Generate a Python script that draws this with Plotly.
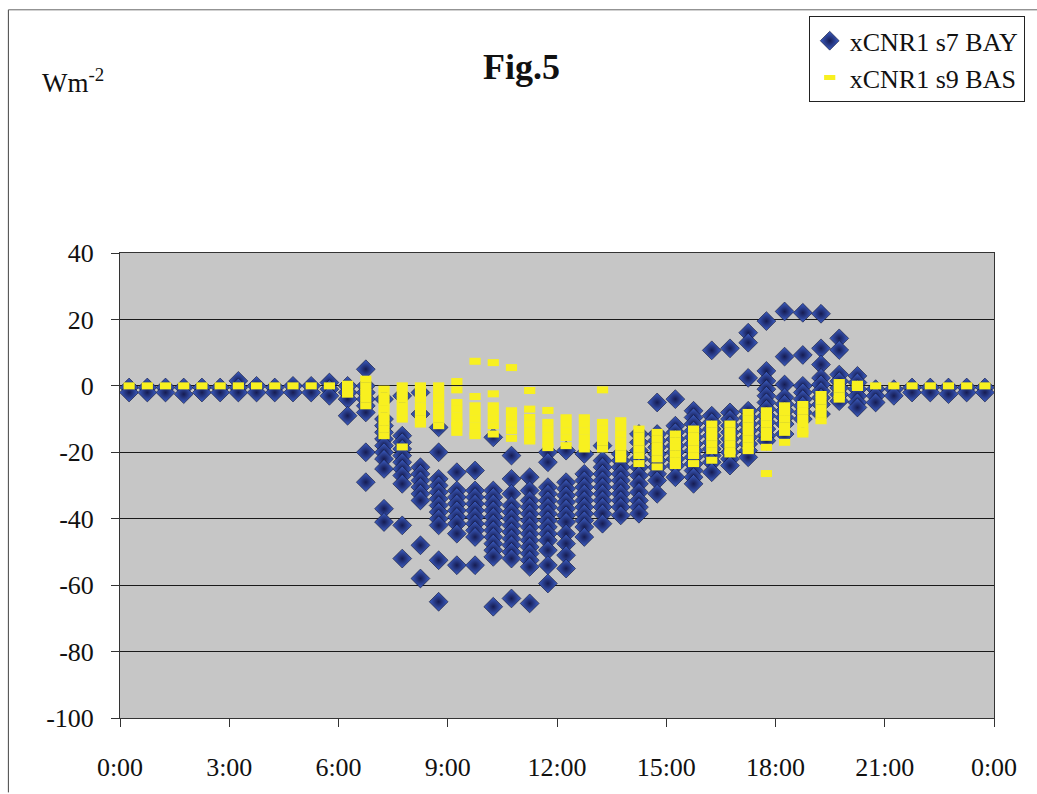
import plotly.graph_objects as go

# Half-hour measurement slots (time of day)
slot_times = [
    "0:15", "0:45", "1:15", "1:45", "2:15", "2:45", "3:15", "3:45",
    "4:15", "4:45", "5:15", "5:45", "6:15", "6:45", "7:15", "7:45",
    "8:15", "8:45", "9:15", "9:45", "10:15", "10:45", "11:15", "11:45",
    "12:15", "12:45", "13:15", "13:45", "14:15", "14:45", "15:15", "15:45",
    "16:15", "16:45", "17:15", "17:45", "18:15", "18:45", "19:15", "19:45",
    "20:15", "20:45", "21:15", "21:45", "22:15", "22:45", "23:15", "23:45",
]

# xCNR1 s7 BAY values (W m-2) observed in each slot
bay_values = [
    [-0.5, -2], [-0.5, -2], [-0.5, -2], [-0.5, -2.5], [-0.5, -2], [-0.5, -2],
    [1.5, -0.5, -2], [0, -2], [-0.5, -2], [0, -2], [0, -2], [1, -1, -3],
    [0, -2, -4, -9],
    [5, 0, -2, -4, -6, -8, -20, -29],
    [-4, -10, -12, -14, -16, -18, -20, -22, -25, -37, -41],
    [-3, -15, -17, -19, -21, -23, -25, -27, -29.5, -42, -52],
    [-2, -8.5, -24.5, -26.5, -28.5, -30.5, -32.5, -34.5, -48, -58],
    [-12.5, -20, -28, -30, -32, -34, -36, -38, -40, -42, -52.5, -65],
    [-26, -31.5, -33.5, -35.5, -37.5, -39.5, -41.5, -44.5, -54],
    [-25.5, -31.5, -33.5, -35.5, -37.5, -39.5, -41.5, -43.5, -45.5, -54],
    [-15.5, -31.5, -33.5, -35.5, -37.5, -39.5, -41.5, -43.5, -45.5, -47.5, -49.5, -51.5, -66.5],
    [-21, -28, -32.5, -36, -38, -40, -42, -44, -46, -48, -50, -52, -64],
    [-27.5, -31.5, -34.5, -36.5, -38.5, -40.5, -42.5, -44.5, -46.5, -48.5, -50.5, -52.5, -54.5, -65.5],
    [-20, -23, -30.5, -32.5, -34.5, -36.5, -38.5, -40.5, -42.5, -44.5, -46.5, -49.5, -54, -59.5],
    [-19.5, -29, -31, -33, -35, -37, -39, -41, -44.5, -47.5, -51, -55],
    [-20.5, -26.5, -28.5, -30.5, -32.5, -34.5, -36.5, -38.5, -40.5, -42.5, -45.5],
    [-18, -22.5, -24.5, -26.5, -28.5, -30.5, -32.5, -34.5, -36.5, -38.5, -41.5],
    [-20.5, -22.5, -24.5, -26.5, -28.5, -30.5, -32.5, -34.5, -36.5, -39],
    [-14.5, -17, -19.5, -22, -24.5, -27, -29.5, -32, -34.5, -36.5, -38.5],
    [-5, -14.5, -16.5, -18.5, -20.5, -22.5, -24.5, -26.5, -28.5, -32.5],
    [-4, -12, -14, -16, -18, -20, -22, -24, -27.5],
    [-7.5, -9.5, -11.5, -13.5, -15.5, -17.5, -19.5, -21.5, -23.5, -25.5, -27.5, -29.5],
    [10.7, -9, -11, -13, -15, -17, -19, -21, -23, -26],
    [11.3, -8, -10, -12, -14, -16, -18, -20, -22, -24],
    [16, 13, 2.4, -7.5, -9.5, -11.5, -13.5, -15.5, -17.5, -19.5, -21.5],
    [19.5, 4.5, 1.5, -1, -3, -5, -7, -9, -11, -13, -15, -16.5],
    [22.4, 8.8, 0.4, -3.5, -5.5, -7.5, -9.5, -11.5, -14.5],
    [22, 9.3, 0, -2, -4, -6, -8, -10],
    [21.7, 11.3, 6.4, 2.4, 0.4, -1.6, -3.6, -5.6, -8.5],
    [14.3, 10.8, 3.4, 1.4, -0.6, -2.6, -4.6],
    [3, 1, -1, -3, -5, -6.5],
    [-1, -3, -5], [-1, -3], [-0.5, -2], [-0.5, -2], [-0.5, -2.5], [-0.5, -2], [-0.5, -2],
]

# xCNR1 s9 BAS values (W m-2) observed in each slot
bas_values = [
    [0], [0], [0], [0], [0], [0], [0], [0], [0], [0], [0], [0],
    [0.5, -1, -2.5],
    [2, 0, -2, -4, -6],
    [-1, -3, -5, -7, -9, -11, -13, -15],
    [0, -2, -4, -6, -8, -10, -18.4],
    [0, -2, -4, -6, -8, -10, -11.5],
    [0, -2, -4, -6, -8, -10, -12],
    [1.3, -1.2, -5, -7, -9, -11, -12, -14],
    [7.4, -3.2, -6, -8, -10, -12, -14, -15],
    [7, -2.4, -6, -8, -10, -12, -14.5],
    [5.5, -7.5, -9.5, -11.5, -13.5, -15.8],
    [-1.4, -7, -9.5, -11.5, -13.5, -15.5, -16.6],
    [-7.4, -11, -13, -15, -17, -18.6],
    [-9.6, -11.6, -13.6, -15.6, -18],
    [-9.6, -11.6, -13.6, -15.6, -17.6, -19],
    [-1.2, -11, -13, -15, -17, -19],
    [-10.5, -12.5, -14.5, -16.5, -18.5, -20.5, -22],
    [-13, -15, -17, -19, -21, -23.4],
    [-14, -16, -18, -20, -22, -24.4],
    [-14.5, -16.5, -18.5, -20.5, -22.5, -24],
    [-13, -15, -17, -19, -21, -23.4],
    [-11.5, -13.5, -15.5, -17.5, -19.5, -22.4],
    [-11.5, -13.5, -15.5, -17.5, -19.5, -20.5],
    [-8, -10, -12, -14, -16, -18, -19.5],
    [-7.5, -9.5, -11.5, -13.5, -15.5, -18.5, -26.4],
    [-6, -8, -10, -12, -14, -17],
    [-5.6, -7.6, -9.6, -11.6, -13.6, -14.5],
    [-2.6, -4.6, -6.6, -8.6, -10.5],
    [1, -1, -3, -4],
    [0.5, -0.5],
    [0], [0], [0], [0], [0], [0], [0],
]

x_tick_hours = [0, 3, 6, 9, 12, 15, 18, 21, 24]
x_tick_labels = ["0:00", "3:00", "6:00", "9:00", "12:00", "15:00", "18:00", "21:00", "0:00"]
y_tick_vals = [40, 20, 0, -20, -40, -60, -80, -100]
y_tick_labels = ["40", "20", "0", "-20", "-40", "-60", "-80", "-100"]


def to_hours(t):
    h, m = t.split(":")
    return int(h) + int(m) / 60.0


def flatten(values):
    xs, ys = [], []
    for t, vals in zip(slot_times, values):
        for v in vals:
            xs.append(to_hours(t))
            ys.append(v)
    return xs, ys


bay_x, bay_y = flatten(bay_values)
bas_x, bas_y = flatten(bas_values)

FONT = "Liberation Serif, Times New Roman, serif"

fig = go.Figure()
fig.add_trace(go.Scatter(
    x=bay_x, y=bay_y, mode="markers", name="xCNR1 s7 BAY",
    marker=dict(symbol="diamond", size=14.5, color="#3d5fc6",
                gradient=dict(type="radial", color="#161c52"),
                line=dict(width=0.6, color="#0d1030")),
))
fig.add_trace(go.Scatter(
    x=bas_x, y=bas_y, mode="markers", name="xCNR1 s9 BAS",
    marker=dict(symbol="line-ew", size=8, color="#f8f020",
                line=dict(width=7, color="#f8f020")),
))

fig.update_layout(
    width=1037, height=794,
    margin=dict(l=120, r=40, t=253, b=71),
    paper_bgcolor="white",
    plot_bgcolor="#c6c6c6",
    font=dict(family=FONT, color="#111"),
    showlegend=True,
    legend=dict(
        x=0.788, y=1.509, xanchor="left", yanchor="top",
        bgcolor="white", bordercolor="#222", borderwidth=1,
        font=dict(family=FONT, size=26, color="#111"),
        itemwidth=30,
    ),
    xaxis=dict(
        range=[0, 24], tickmode="array", tickvals=x_tick_hours, ticktext=x_tick_labels,
        showgrid=False, zeroline=False,
        showline=True, linecolor="#333", linewidth=1, mirror=True,
        ticks="outside", ticklen=8, tickcolor="#333",
        tickfont=dict(family=FONT, size=26, color="#111"),
        ticklabelstandoff=18,
    ),
    yaxis=dict(
        range=[-100, 40], tickmode="array", tickvals=y_tick_vals, ticktext=y_tick_labels,
        showgrid=True, gridcolor="#1a1a1a", gridwidth=1, zeroline=False,
        showline=True, linecolor="#333", linewidth=1, mirror=True,
        ticks="outside", ticklen=8, tickcolor="#333",
        tickfont=dict(family=FONT, size=26, color="#111"),
        ticklabelstandoff=12,
    ),
    annotations=[
        dict(text="<b>Fig.5</b>", x=0.4595, y=1.40, xref="paper", yref="paper",
             xanchor="center", yanchor="middle", showarrow=False,
             font=dict(family=FONT, size=36, color="#111")),
        dict(text="Wm<sup>-2</sup>", x=-0.0912, y=1.37, xref="paper", yref="paper",
             xanchor="left", yanchor="middle", showarrow=False,
             font=dict(family=FONT, size=27, color="#111")),
    ],
    shapes=[
        dict(type="line", xref="paper", yref="paper", x0=-0.1277, x1=-0.1277,
             y0=-0.16, y1=1.523, line=dict(color="#444", width=1)),
        dict(type="line", xref="paper", yref="paper", x0=-0.1277, x1=1.05,
             y0=1.523, y1=1.523, line=dict(color="#666", width=1)),
    ],
)

fig.write_html("out.html")
